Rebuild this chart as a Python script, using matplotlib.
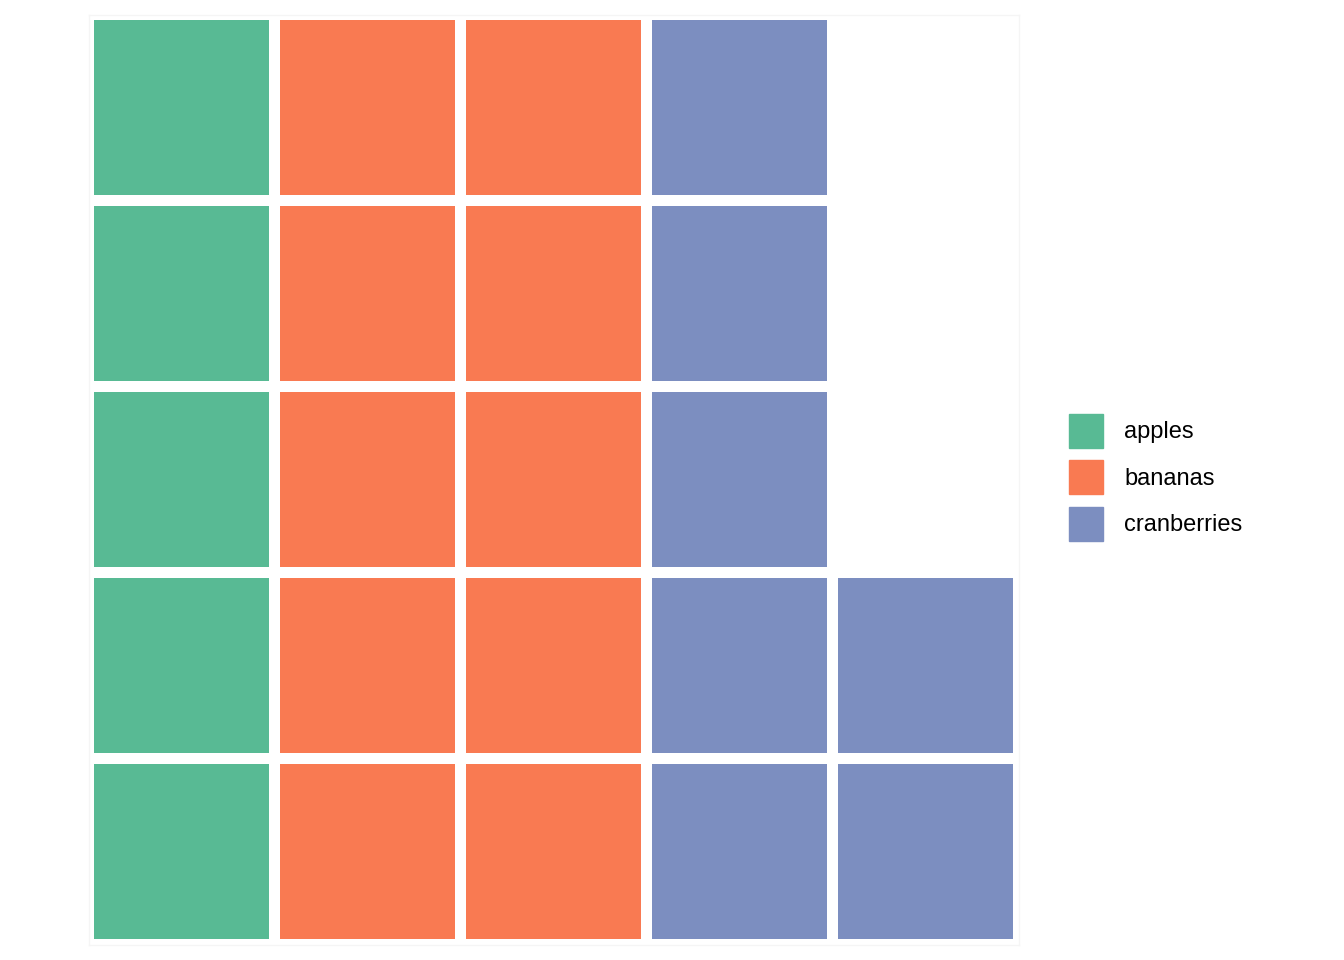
import matplotlib.pyplot as plt
from matplotlib.patches import Patch

categories = ['apples', 'bananas', 'cranberries']
counts = [5, 10, 7]
colors = ['#58BA94', '#F97A52', '#7C8EC0']
n_rows = 5


def main():
    plt.rcParams['font.family'] = ['Liberation Sans', 'DejaVu Sans']

    fig = plt.figure(figsize=(13.44, 9.6), dpi=100)
    ax = fig.add_axes([88.5 / 1344, 15.5 / 960, 930 / 1344, 930 / 960])

    # fill tiles column by column, from the bottom up
    k = 0
    for cat, n, col in zip(categories, counts, colors):
        xs = [(k + j) // n_rows for j in range(n)]
        ys = [(k + j) % n_rows for j in range(n)]
        ax.bar(xs, 0.94, bottom=[y - 0.47 for y in ys], width=0.94,
               color=col, linewidth=0)
        k += n

    ax.set_xlim(-0.5, 4.5)
    ax.set_ylim(-0.5, 4.5)
    ax.set_xticks([])
    ax.set_yticks([])
    for s in ax.spines.values():
        s.set_color('#f5f5f5')
        s.set_linewidth(1)

    handles = [Patch(color=c, label=l) for c, l in zip(colors, categories)]
    fs = 17
    px = fs * 100 / 72
    # legend box height = fs*(0.65*hh + 0.245)
    hh = (34 / px - 0.245) / 0.65
    fig.legend(handles=handles, loc='center left',
               bbox_to_anchor=(1069 / 1344, 1 - 477 / 960),
               frameon=False, fontsize=fs, borderpad=0, borderaxespad=0,
               handlelength=34 / px, handleheight=hh,
               labelspacing=12.5 / px, handletextpad=21 / px)

    fig.savefig('out.png', dpi=100)


if __name__ == '__main__':
    main()
